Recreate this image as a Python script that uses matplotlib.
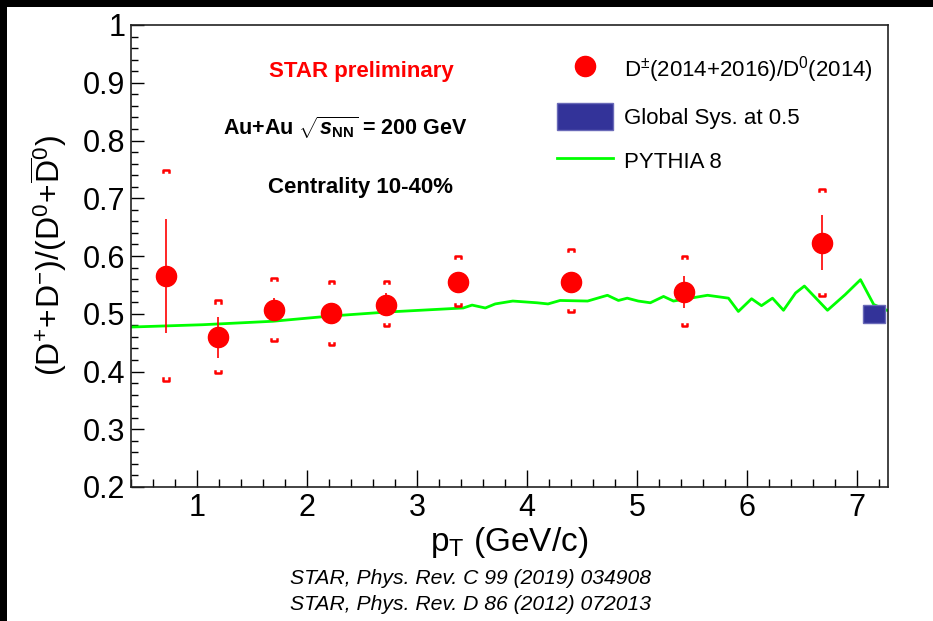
import matplotlib
matplotlib.use("Agg")
import matplotlib.pyplot as plt
from matplotlib.patches import Rectangle, Patch
from matplotlib.lines import Line2D
from matplotlib.ticker import MultipleLocator

plt.rcParams['font.family'] = ['Liberation Sans', 'DejaVu Sans']
plt.rcParams['mathtext.fontset'] = 'custom'
plt.rcParams['mathtext.rm'] = 'Liberation Sans'
plt.rcParams['mathtext.it'] = 'Liberation Sans:italic:bold'
plt.rcParams['mathtext.bf'] = 'Liberation Sans:bold'

# D+-/D0 ratio, Au+Au 200 GeV, 10-40%
pt = [0.72, 1.19, 1.70, 2.22, 2.72, 3.37, 4.40, 5.43, 6.68]
ratio = [0.565, 0.459, 0.507, 0.502, 0.516, 0.555, 0.555, 0.538, 0.623]
stat_lo = [0.098, 0.035, 0.020, 0.015, 0.020, 0.015, 0.015, 0.028, 0.048]
stat_hi = [0.099, 0.035, 0.020, 0.015, 0.020, 0.015, 0.015, 0.027, 0.048]
sys_hi = [0.749, 0.523, 0.562, 0.557, 0.557, 0.600, 0.612, 0.600, 0.716]
sys_lo = [0.384, 0.397, 0.452, 0.446, 0.478, 0.513, 0.503, 0.479, 0.530]

# PYTHIA 8 curve
py_pt = [0.40, 1.05, 1.69, 2.21, 2.73, 3.42, 3.50, 3.62, 3.71, 3.87, 4.09, 4.19,
         4.30, 4.55, 4.73, 4.83, 4.91, 5.01, 5.12, 5.24, 5.33, 5.64, 5.83, 5.92,
         6.04, 6.13, 6.23, 6.33, 6.44, 6.52, 6.73, 6.89, 7.03, 7.15, 7.27]
py_ratio = [0.477, 0.481, 0.487, 0.496, 0.503, 0.510, 0.515, 0.510, 0.517, 0.522,
            0.519, 0.517, 0.523, 0.522, 0.532, 0.523, 0.527, 0.522, 0.519, 0.530,
            0.522, 0.532, 0.527, 0.504, 0.526, 0.514, 0.527, 0.506, 0.536, 0.548,
            0.506, 0.533, 0.559, 0.516, 0.506]

# global systematic box at 0.5
glob_x = 7.15
glob_y = 0.5
glob_err = 0.016

W, H = 933, 621
fig = plt.figure(figsize=(W / 100, H / 100), dpi=100, facecolor='black')
# white page inside the black border
fig.patches.append(Rectangle((7 / W, 0), 1 - 7 / W, 1 - 7 / H, transform=fig.transFigure,
                             facecolor='white', edgecolor='none', zorder=-10))

ax = fig.add_axes([131 / W, 1 - 487 / H, (888 - 131) / W, (487 - 25) / H])
ax.set_facecolor('white')
ax.set_xlim(0.4, 7.28)
ax.set_ylim(0.2, 1.0)

ax.plot(py_pt, py_ratio, color='#00ff00', lw=2, zorder=2)

ax.add_patch(Rectangle((glob_x - 0.1, glob_y - glob_err), 0.2, 2 * glob_err,
                       facecolor='#333399', edgecolor='#6a6ab8', lw=1, zorder=3))

ax.errorbar(pt, ratio, yerr=[stat_lo, stat_hi], fmt='o', color='red', ms=14.5,
            elinewidth=1.2, capsize=0, zorder=4)

# systematic brackets
bw = 0.025
bd = 0.004
for x, hi, lo in zip(pt, sys_hi, sys_lo):
    ax.plot([x - bw, x - bw, x + bw, x + bw], [hi - bd, hi, hi, hi - bd], color='red', lw=1.8, zorder=4)
    ax.plot([x - bw, x - bw, x + bw, x + bw], [lo + bd, lo, lo, lo + bd], color='red', lw=1.8, zorder=4)

ax.xaxis.set_major_locator(MultipleLocator(1))
ax.xaxis.set_minor_locator(MultipleLocator(0.2))
ax.yaxis.set_major_locator(MultipleLocator(0.1))
ax.yaxis.set_minor_locator(MultipleLocator(0.02))
ax.set_yticks([0.2, 0.3, 0.4, 0.5, 0.6, 0.7, 0.8, 0.9, 1.0])
ax.set_yticklabels(['0.2', '0.3', '0.4', '0.5', '0.6', '0.7', '0.8', '0.9', '1'])
ax.tick_params(which='both', direction='in', top=False, right=False, labelsize=22)
ax.tick_params(which='major', length=9, width=1, pad=4)
ax.tick_params(which='minor', length=5, width=1)
ax.tick_params(axis='x', which='major', length=12)
ax.tick_params(axis='x', which='minor', length=6)
for s in ax.spines.values():
    s.set_linewidth(1.2)
    s.set_color('#222222')

ax.set_xlabel(r'p$_{\mathrm{T}}$ (GeV/c)', fontsize=24, labelpad=2)
ax.set_ylabel(r'$\mathrm{(D^{+}\!+\!D^{-})/(D^{0}\!+\!\overline{D}^{0})}$', fontsize=23, labelpad=10)

handles = [Line2D([], [], marker='o', color='red', ls='none', ms=14.5),
           Patch(facecolor='#333399', edgecolor='#6a6ab8'),
           Line2D([], [], color='#00ff00', lw=2)]
labels = [r'D$^{\pm}$(2014+2016)/D$^{0}$(2014)', 'Global Sys. at 0.5', 'PYTHIA 8']
ax.legend(handles, labels, loc='upper left', bbox_to_anchor=((557 - 131) / 757, (487 - 54) / 462),
          frameon=False, fontsize=16, handlelength=2.5, handleheight=1.5, handletextpad=0.5,
          labelspacing=0.8, borderpad=0, borderaxespad=0)

fig.text(361 / W, 1 - 72 / H, 'STAR preliminary', color='red', fontsize=16, fontweight='bold',
         ha='center', va='center')
fig.text(345 / W, 1 - 128 / H, r'Au+Au $\sqrt{s_{\mathbf{NN}}}$ = 200 GeV', fontsize=15.5,
         fontweight='bold', ha='center', va='center')
fig.text(361 / W, 1 - 187 / H, 'Centrality 10-40%', fontsize=16, fontweight='bold',
         ha='center', va='center')

fig.text(471 / W, 1 - 578 / H, 'STAR, Phys. Rev. C 99 (2019) 034908', fontsize=15.2, style='italic',
         ha='center', va='center')
fig.text(471 / W, 1 - 604 / H, 'STAR, Phys. Rev. D 86 (2012) 072013', fontsize=15.2, style='italic',
         ha='center', va='center')

fig.savefig('out.png', dpi=100, facecolor='black')
